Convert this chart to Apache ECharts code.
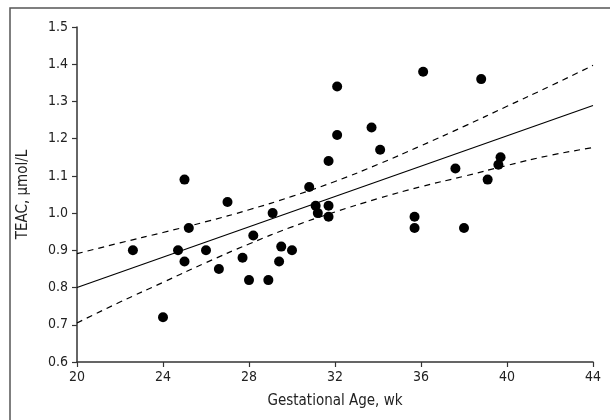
<!DOCTYPE html>
<html>
<head>
<meta charset="utf-8">
<script src="https://cdn.jsdelivr.net/npm/echarts@6/dist/echarts.min.js"></script>
<style>html,body{margin:0;padding:0;background:#fff}#c{width:610px;height:420px}</style>
</head>
<body>
<div id="c"></div>
<script>
// Scatter data: gestational age (wk) and TEAC (µmol/L)
var ages = [22.6, 24.0, 24.7, 25.0, 25.0, 25.2, 26.0, 26.6, 27.0, 27.7, 28.0, 28.2, 28.9, 29.1, 29.5, 29.4, 30.0, 30.8, 31.1, 31.2, 31.7, 31.7, 31.7, 32.1, 32.1, 33.7, 34.1, 35.7, 35.7, 36.1, 37.6, 38.0, 38.8, 39.1, 39.6, 39.7];
var teac = [0.90, 0.72, 0.90, 1.09, 0.87, 0.96, 0.90, 0.85, 1.03, 0.88, 0.82, 0.94, 0.82, 1.00, 0.91, 0.87, 0.90, 1.07, 1.02, 1.00, 1.14, 1.02, 0.99, 1.34, 1.21, 1.23, 1.17, 0.99, 0.96, 1.38, 1.12, 0.96, 1.36, 1.09, 1.13, 1.15];
// Regression line endpoints
var fitX = [20, 44];
var fitY = [0.80, 1.289];
// Confidence band
var bandX = [20, 22, 24, 26, 28, 30, 32, 34, 36, 38, 40, 42, 44];
var bandUpper = [0.891, 0.920, 0.948, 0.977, 1.009, 1.045, 1.085, 1.131, 1.181, 1.233, 1.287, 1.341, 1.397];
var bandLower = [0.705, 0.761, 0.814, 0.867, 0.917, 0.963, 1.003, 1.039, 1.071, 1.099, 1.128, 1.155, 1.176];
var xTicks = [20, 24, 28, 32, 36, 40, 44];
var yTicks = [0.6, 0.7, 0.8, 0.9, 1.0, 1.1, 1.2, 1.3, 1.4, 1.5];

function zip(a, b) { return a.map(function (v, i) { return [v, b[i]]; }); }

var FONT = '"DejaVu Sans Condensed", "Liberation Sans Narrow", "Liberation Sans", sans-serif';
var chart = echarts.init(document.getElementById('c'));
chart.setOption({
  animation: false,
  backgroundColor: '#fff',
  graphic: [{
    type: 'rect', silent: true, z: -1,
    shape: { x: 10, y: 8, width: 700, height: 500 },
    style: { fill: 'none', stroke: '#555', lineWidth: 1.5 }
  }],
  grid: { left: 77, right: 17, top: 27, bottom: 58 },
  xAxis: {
    type: 'value', min: 20, max: 44, interval: 4,
    name: 'Gestational Age, wk', nameLocation: 'middle', nameGap: 32,
    nameTextStyle: { fontFamily: FONT, fontSize: 15, color: '#222' },
    axisLine: { lineStyle: { color: '#333', width: 1.5 } },
    axisTick: { length: 5, lineStyle: { color: '#333', width: 1.2 } },
    axisLabel: { fontFamily: FONT, fontSize: 14, color: '#222', margin: 8,
      formatter: function (v) { return xTicks.indexOf(v) >= 0 ? String(v) : ''; } },
    splitLine: { show: false }
  },
  yAxis: {
    type: 'value', min: 0.6, max: 1.5, interval: 0.1,
    name: 'TEAC, \u03bcmol/L', nameLocation: 'middle', nameGap: 46,
    nameTextStyle: { fontFamily: FONT, fontSize: 15, color: '#222' },
    axisLine: { show: true, lineStyle: { color: '#333', width: 1.5 } },
    axisTick: { show: true, length: 5, lineStyle: { color: '#333', width: 1.2 } },
    axisLabel: { fontFamily: FONT, fontSize: 14, color: '#222', margin: 9,
      formatter: function (v) {
        var r = Math.round(v * 10) / 10;
        return yTicks.indexOf(r) >= 0 ? r.toFixed(1) : '';
      } },
    splitLine: { show: false }
  },
  series: [
    { type: 'line', data: zip(bandX, bandUpper), smooth: true, symbol: 'none',
      lineStyle: { color: '#000', width: 1.2, type: [6, 5] }, z: 2 },
    { type: 'line', data: zip(bandX, bandLower), smooth: true, symbol: 'none',
      lineStyle: { color: '#000', width: 1.2, type: [6, 5] }, z: 2 },
    { type: 'line', data: zip(fitX, fitY), symbol: 'none',
      lineStyle: { color: '#000', width: 1.2 }, z: 2 },
    { type: 'scatter', data: zip(ages, teac), symbol: 'circle', symbolSize: 10,
      itemStyle: { color: '#000', opacity: 1 }, z: 3 }
  ]
});
</script>
</body>
</html>
